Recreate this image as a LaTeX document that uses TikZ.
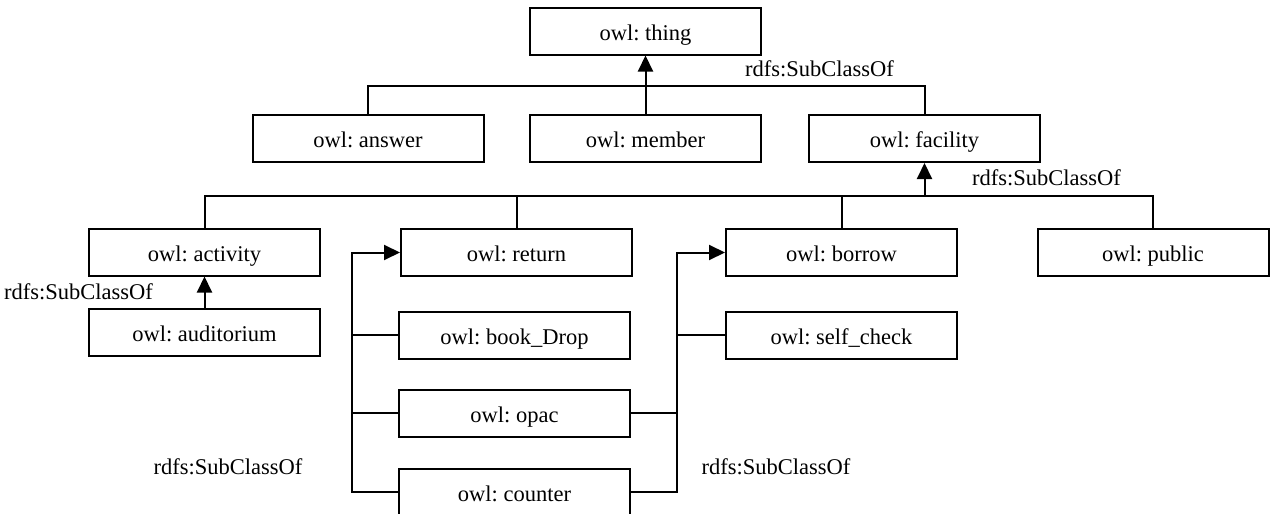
\documentclass[tikz,border=0pt]{standalone}
\usepackage{fontspec}
\setmainfont{Liberation Serif}
\usetikzlibrary{arrows.meta}
\frenchspacing
\begin{document}
\begin{tikzpicture}[x=1pt,y=-1pt,
  cls/.style={draw, line width=2pt, minimum width=231pt, minimum height=47pt,
              inner sep=0pt, text height=18pt, text depth=0pt,
              font=\fontsize{22.5}{25}\selectfont},
  lbl/.style={inner sep=0pt, font=\fontsize{22.5}{25}\selectfont},
  link/.style={line width=2pt},
  isa/.style={line width=2pt, -{Triangle[width=15pt,length=16pt]}}]
\useasboundingbox (0,0) rectangle (1270,514);

% class boxes
\node[cls] (thing)      at (645.5,31)    {owl: thing};
\node[cls] (answer)     at (368,138.5)   {owl: answer};
\node[cls] (member)     at (645.5,138.5) {owl: member};
\node[cls] (facility)   at (924.5,138.5) {owl: facility};
\node[cls] (activity)   at (204.5,252)   {owl: activity};
\node[cls] (return)     at (516.5,252.5) {owl: return};
\node[cls] (borrow)     at (841.5,252.5) {owl: borrow};
\node[cls] (public)     at (1153,252.5)  {owl: public};
\node[cls] (auditorium) at (204.5,332)   {owl: auditorium};
\node[cls] (bookdrop)   at (514.5,335)   {owl: book\_Drop};
\node[cls] (selfcheck)  at (841.5,335)   {owl: self\_check};
\node[cls] (opac)       at (514.5,413)   {owl: opac};
\node[cls] (counter)    at (514.5,492)   {owl: counter};

% bus lines and trunks
\coordinate (busA) at (0,86);
\coordinate (busB) at (0,196);
\coordinate (trunkL) at (352,0);
\coordinate (trunkR) at (677,0);

% first level
\draw[link] (answer.north) -- (answer.north |- busA) -| (facility.north);
\draw[isa] (member.north) -- (thing.south);

% second level
\draw[link] (activity.north) -- (activity.north |- busB) -| (public.north);
\draw[link] (return.north) -- (return.north |- busB);
\draw[link] (borrow.north) -- (borrow.north |- busB);
\draw[isa] (facility.south |- busB) -- (facility.south);

% activity subclass
\draw[isa] (auditorium.north) -- (activity.south);

% return subclasses
\draw[isa] (counter.west) -| (trunkL |- return.west) -- (return.west);
\draw[link] (bookdrop.west) -- (trunkL |- bookdrop.west);
\draw[link] (opac.west) -- (trunkL |- opac.west);

% borrow subclasses
\draw[isa] (counter.east) -| (trunkR |- borrow.west) -- (borrow.west);
\draw[link] (opac.east) -- (trunkR |- opac.east);
\draw[link] (selfcheck.west) -- (trunkR |- selfcheck.west);

% relation labels
\node[lbl] (lab1) at (819.5,69)  {rdfs:SubClassOf};
\node[lbl] (lab2) at (1046.5,178) {rdfs:SubClassOf};
\node[lbl] (lab3) at (78.5,292)  {rdfs:SubClassOf};
\node[lbl] (lab4) at (228,467)   {rdfs:SubClassOf};
\node[lbl] (lab5) at (776,467)   {rdfs:SubClassOf};
\end{tikzpicture}
\end{document}
